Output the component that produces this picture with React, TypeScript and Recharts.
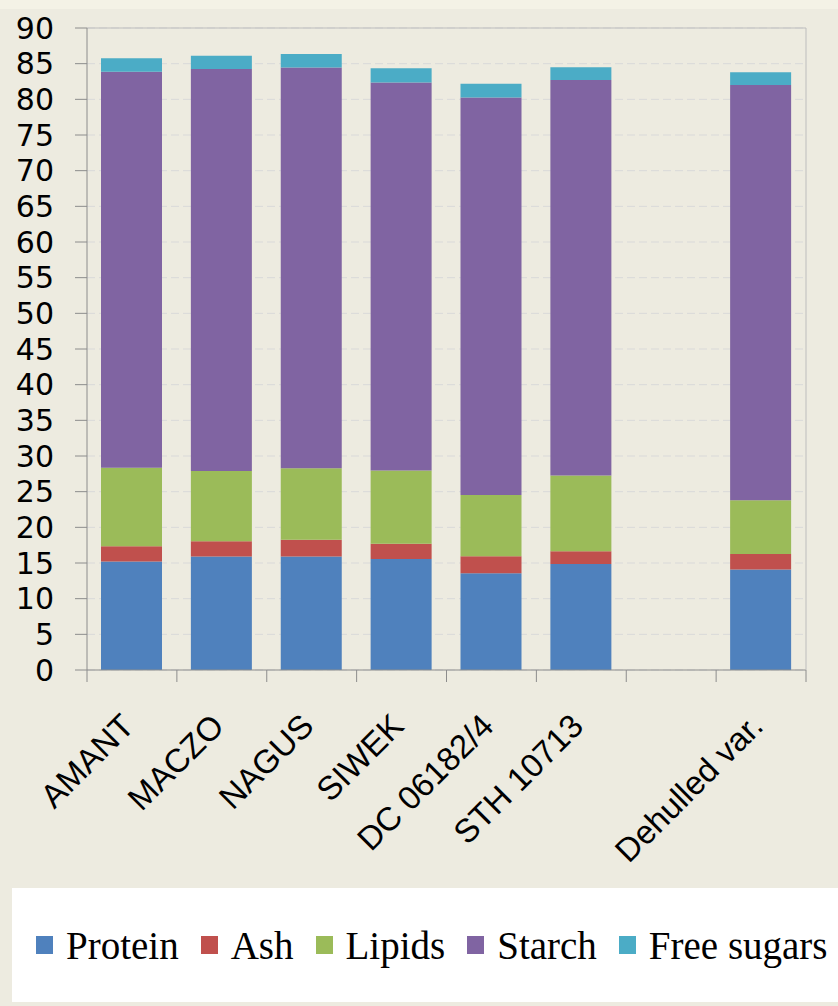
import { BarChart, Bar, XAxis, YAxis, CartesianGrid, Legend, ReferenceLine } from 'recharts';

const varieties = ['AMANT', 'MACZO', 'NAGUS', 'SIWEK', 'DC 06182/4', 'STH 10713', '', 'Dehulled var.'];
const protein = [15.2, 15.9, 15.9, 15.55, 13.55, 14.85, null, 14.1];
const ash = [2.15, 2.15, 2.35, 2.15, 2.4, 1.8, null, 2.15];
const lipids = [11.0, 9.85, 10.05, 10.25, 8.6, 10.6, null, 7.55];
const starch = [55.5, 56.35, 56.15, 54.4, 55.7, 55.45, null, 58.2];
const freeSugars = [1.9, 1.85, 1.9, 2.0, 1.95, 1.8, null, 1.8];
const yTicks = [0, 5, 10, 15, 20, 25, 30, 35, 40, 45, 50, 55, 60, 65, 70, 75, 80, 85, 90];

const seriesNames = ['Protein', 'Ash', 'Lipids', 'Starch', 'Free sugars'];
const seriesColors = ['#4F81BD', '#C0504D', '#9BBB59', '#8064A2', '#4BACC6'];

const rows = varieties.map((name, i) => ({
  name,
  Protein: protein[i],
  Ash: ash[i],
  Lipids: lipids[i],
  Starch: starch[i],
  'Free sugars': freeSugars[i],
}));

const AXIS = '#8C8C8C';

// Excel-style: tick marks on category boundaries, labels rotated
function CategoryTick(props: any) {
  const { x, y, payload, index } = props;
  const half = payload.offset ?? props.width / props.visibleTicksCount / 2;
  return (
    <g>
      {index === 0 && <line x1={x - half} x2={x - half} y1={y} y2={y + 12} stroke={AXIS} />}
      <line x1={x + half} x2={x + half} y1={y} y2={y + 12} stroke={AXIS} />
      {payload.value && (
        <text
          transform={`translate(${x + 4},${y + 58}) rotate(-45)`}
          textAnchor="end"
          fontSize={33}
          fontFamily="Liberation Sans"
          fill="#000"
        >
          {payload.value}
        </text>
      )}
    </g>
  );
}

function LegendBox() {
  return (
    <div
      style={{
        width: '100%',
        height: '100%',
        background: '#fff',
        display: 'flex',
        alignItems: 'center',
        paddingLeft: 24,
        boxSizing: 'border-box',
        fontFamily: 'Liberation Serif',
        fontSize: 39,
        color: '#000',
        whiteSpace: 'nowrap',
        overflow: 'hidden',
      }}
    >
      {seriesNames.map((s, i) => (
        <div key={s} style={{ display: 'flex', alignItems: 'center', marginRight: 22 }}>
          <span style={{ width: 17, height: 18, background: seriesColors[i], marginRight: 13, display: 'inline-block' }} />
          <span>{s}</span>
        </div>
      ))}
    </div>
  );
}

export default function App() {
  return (
    <div style={{ position: 'absolute', left: 0, top: 0, width: 838, height: 1006, background: '#EDEBE0' }}>
      <div style={{ position: 'absolute', left: 0, top: 0, width: 838, height: 9, background: '#F4F2E6' }} />
      <BarChart
        width={838}
        height={1006}
        data={rows}
        margin={{ top: 28, right: 0, bottom: 136, left: 0 }}
      >
        <CartesianGrid vertical={false} stroke="#D9D9D9" strokeDasharray="8 4" />
        <XAxis
          dataKey="name"
          interval={0}
          height={200}
          tickSize={0}
          tickMargin={0}
          tickLine={false}
          stroke={AXIS}
          tick={<CategoryTick />}
        />
        <YAxis
          width={87}
          domain={[0, 90]}
          ticks={yTicks}
          interval={0}
          tickSize={12}
          tickMargin={21}
          stroke={AXIS}
          tick={{ fontSize: 30, fontFamily: 'DejaVu Sans', fill: '#000' }}
        />
        <YAxis
          yAxisId="border"
          orientation="right"
          width={32}
          domain={[0, 90]}
          ticks={yTicks}
          tick={false}
          tickLine={false}
          stroke="#BDBDBD"
        />
        <ReferenceLine y={90} stroke="#BDBDBD" />
        {seriesNames.map((s, i) => (
          <Bar key={s} dataKey={s} stackId="a" fill={seriesColors[i]} barSize={61} isAnimationActive={false} />
        ))}
        <Legend
          verticalAlign="middle"
          align="center"
          content={<LegendBox />}
          wrapperStyle={{ position: 'absolute', left: 12, top: 888, width: 826, height: 114 }}
        />
      </BarChart>
    </div>
  );
}
